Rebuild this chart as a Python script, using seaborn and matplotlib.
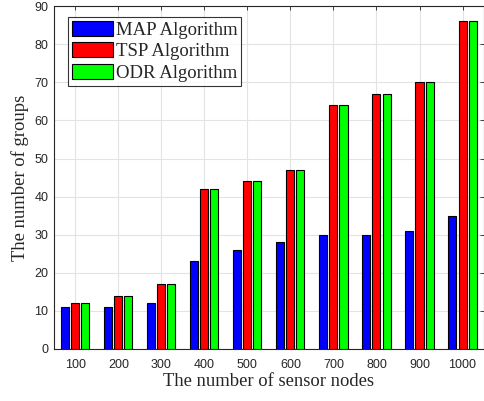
import matplotlib
matplotlib.use("Agg")
import matplotlib.pyplot as plt
import seaborn as sns
import pandas as pd

nodes = ["100", "200", "300", "400", "500", "600", "700", "800", "900", "1000"]
map_alg = [11, 11, 12, 23, 26, 28, 30, 30, 31, 35]
tsp_alg = [12, 14, 17, 42, 44, 47, 64, 67, 70, 86]
odr_alg = [12, 14, 17, 42, 44, 47, 64, 67, 70, 86]
series = ["MAP Algorithm", "TSP Algorithm", "ODR Algorithm"]
colors = ["#0000ff", "#ff0000", "#00ff00"]

df = pd.DataFrame({
    "nodes": nodes * 3,
    "value": map_alg + tsp_alg + odr_alg,
    "alg": [series[0]] * 10 + [series[1]] * 10 + [series[2]] * 10,
})

sns.set_style("white")
plt.rcParams["font.family"] = ["Liberation Sans", "DejaVu Sans"]

fig = plt.figure(figsize=(4.85, 4.01), dpi=100)
ax = fig.add_axes([0.111, 0.1297, 0.887, 0.855])
sns.barplot(data=df, x="nodes", y="value", hue="alg", order=nodes,
            hue_order=series, palette=colors, width=0.7, gap=0.2,
            edgecolor="black", linewidth=0.8, saturation=1, ax=ax, zorder=3)

ax.set_xlim(-0.5, 9.5)
ax.set_ylim(0, 90)
ax.set_yticks(range(0, 91, 10))
ax.grid(True, color="#e3e3e3", linewidth=0.8, zorder=0)
ax.set_axisbelow(True)
for s in ax.spines.values():
    s.set_visible(True)
    s.set_color("#262626")
    s.set_linewidth(0.8)
ax.tick_params(direction="in", top=True, right=True, length=3, width=0.6,
               labelsize=9, colors="#262626")
ax.tick_params(axis="x", pad=7)
ax.tick_params(axis="y", pad=4)
ax.set_xlabel("The number of sensor nodes", family="Liberation Serif",
              fontsize=13.4, color="#262626", labelpad=2)
ax.set_ylabel("The number of groups", family="Liberation Serif",
              fontsize=13.4, color="#262626", labelpad=4)

leg = ax.legend(loc="upper left", bbox_to_anchor=(0.02, 0.985),
                prop={"family": "Liberation Serif", "size": 13.5},
                frameon=True, fancybox=False, edgecolor="black",
                handlelength=2.2, handleheight=0.85, handletextpad=0.15,
                labelspacing=0.2, borderpad=0.2, borderaxespad=0.3)
leg.get_frame().set_linewidth(0.8)
leg.set_title(None)

fig.savefig("out.png", dpi=100)
